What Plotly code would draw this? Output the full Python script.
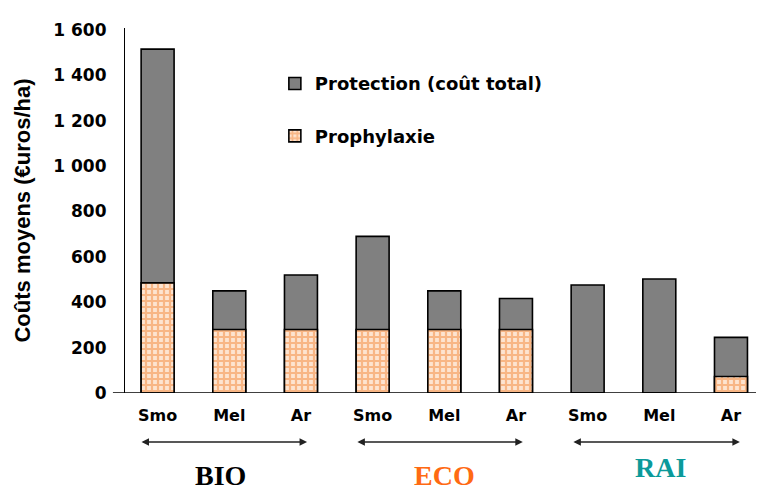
import plotly.graph_objects as go

# ---- data ----
groups = ["BIO", "ECO", "RAI"]
systems = ["Smo", "Mel", "Ar", "Smo", "Mel", "Ar", "Smo", "Mel", "Ar"]
protection_total = [1515, 450, 520, 690, 450, 416, 476, 502, 245]
prophylaxie = [485, 280, 280, 280, 280, 280, 0, 0, 73]
y_ticks = [0, 200, 400, 600, 800, 1000, 1200, 1400, 1600]
y_ticktext = ["0", "200", "400", "600", "800", "1 000", "1 200", "1 400", "1 600"]
group_colors = ["#000000", "#ff6a13", "#0b9a9a"]
# group spans (category index units) and label positions
group_span = [(-0.246, 2.085), (2.766, 5.096), (5.78, 8.124)]
group_label_x = [0.871, 3.996, 7.01]
group_label_y = [-0.225, -0.225, -0.204]

x = list(range(len(systems)))
SANS = "DejaVu Sans, sans-serif"
SANS2 = "Liberation Sans, Arial, sans-serif"
SERIF = "Liberation Serif, Times New Roman, serif"
BAR_W = 0.46

fig = go.Figure()
fig.add_trace(go.Bar(
    x=x, y=protection_total, width=BAR_W,
    name="Protection (coût total)", legendgroup="a",
    marker=dict(color="#808080", line=dict(color="#000000", width=1.6)),
))
fig.add_trace(go.Bar(
    x=x, y=prophylaxie, width=BAR_W,
    name="Prophylaxie", legendgroup="b",
    marker=dict(color="#fdd9bd", line=dict(color="#000000", width=1.6),
                pattern=dict(shape="+", fgcolor="#f4883a", bgcolor="#fde4d0",
                             size=6, solidity=0.6)),
))

for (x0, x1), lx, ly, name, col in zip(group_span, group_label_x, group_label_y, groups, group_colors):
    fig.add_annotation(x=x1, y=-0.134, ax=x0, ay=0, xref="x", yref="paper",
                       axref="x", ayref="pixel", text="", showarrow=True,
                       arrowhead=2, arrowside="end+start", arrowsize=1,
                       arrowwidth=1.5, arrowcolor="#222222")
    fig.add_annotation(x=lx, y=ly, xref="x", yref="paper", text=name, showarrow=False,
                       yanchor="middle",
                       font=dict(family=SERIF, size=28, color=col, weight="bold"))

# extension of the zero line to the left
fig.add_shape(type="line", xref="paper", yref="y", x0=-0.019, x1=1, y0=0, y1=0,
              line=dict(color="#000000", width=1.5))

fig.update_layout(
    width=764, height=495,
    margin=dict(l=117, r=12, t=12, b=110),
    barmode="overlay",
    paper_bgcolor="white", plot_bgcolor="white",
    font=dict(family=SANS, color="#000000"),
    showlegend=True,
    legend=dict(x=0.236, y=0.898, xanchor="left", yanchor="top",
                font=dict(size=18, family=SANS, weight="bold"),
                tracegroupgap=26, bgcolor="rgba(0,0,0,0)"),
    xaxis=dict(range=[-0.455, 8.405], tickmode="array", tickvals=x, ticktext=systems,
               showgrid=False, zeroline=False, showline=False, ticks="",
               tickfont=dict(size=16, family=SANS, weight="bold"),
               ticklabelstandoff=11),
    yaxis=dict(range=[0, 1608], tickmode="array", tickvals=y_ticks, ticktext=y_ticktext,
               showgrid=False, zeroline=False, showline=True, linecolor="#000000",
               linewidth=1.2, ticks="",
               tickfont=dict(size=17, family=SANS, weight="bold"),
               ticklabelstandoff=14,
               title=dict(text="Coûts moyens (€uros/ha)", standoff=16,
                          font=dict(size=22, family=SANS2, weight="bold"))),
)

fig.write_html("out.html")
